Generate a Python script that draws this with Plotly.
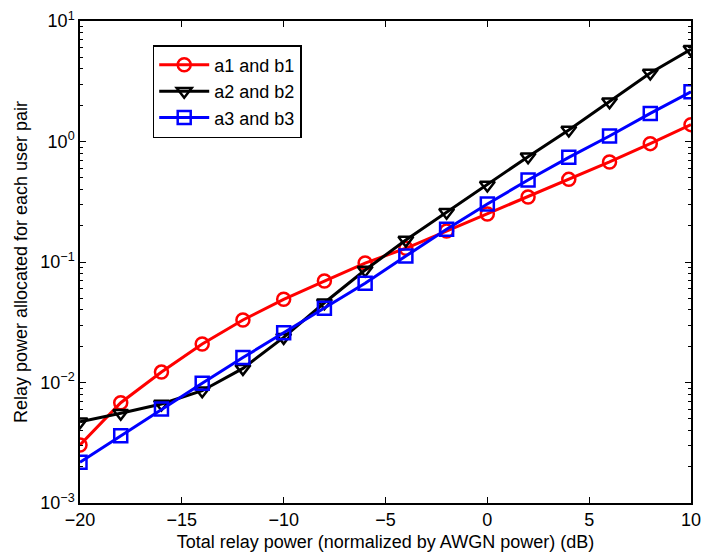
import plotly.graph_objects as go

x_db = [-20, -18, -16, -14, -12, -10, -8, -6, -4, -2, 0, 2, 4, 6, 8, 10]
a1_b1 = [0.00303, 0.0068, 0.0122, 0.0209, 0.033, 0.049, 0.0695, 0.098, 0.13, 0.181, 0.25, 0.346, 0.485, 0.676, 0.96, 1.38]
a2_b2 = [0.00473, 0.00555, 0.00663, 0.00855, 0.0131, 0.0237, 0.0459, 0.0858, 0.152, 0.259, 0.435, 0.748, 1.245, 2.14, 3.70, 5.82]
a3_b3 = [0.00218, 0.00362, 0.00603, 0.00985, 0.0161, 0.0259, 0.0413, 0.0666, 0.112, 0.187, 0.303, 0.479, 0.739, 1.11, 1.71, 2.59]

y_tickvals = [0.001, 0.01, 0.1, 1, 10]
y_ticktext = ["10<sup>\u22123</sup>", "10<sup>\u22122</sup>", "10<sup>\u22121</sup>", "10<sup>0</sup>", "10<sup>1</sup>"]
x_tickvals = [-20, -15, -10, -5, 0, 5, 10]
x_ticktext = ["\u221220", "\u221215", "\u221210", "\u22125", "0", "5", "10"]

series = [
    ("a1 and b1", a1_b1, "#ff0000", "circle-open"),
    ("a2 and b2", a2_b2, "#000000", "triangle-down-open"),
    ("a3 and b3", a3_b3, "#0000ff", "square-open"),
]

FONT = "Liberation Sans, Arial, Helvetica, sans-serif"
FS = 18

fig = go.Figure()
for name, vals, col, sym in series:
    fig.add_trace(go.Scatter(
        x=x_db, y=vals, name=name, mode="lines+markers",
        line=dict(color=col, width=3),
        marker=dict(symbol=sym, size=13, color=col, line=dict(color=col, width=2.5)),
    ))

fig.update_layout(
    width=704, height=559,
    margin=dict(l=80, r=13, t=21, b=56),
    paper_bgcolor="white", plot_bgcolor="white",
    font=dict(family=FONT, size=FS, color="black"),
    showlegend=True,
    legend=dict(
        x=0.119, y=0.95, xanchor="left", yanchor="top",
        bgcolor="white", bordercolor="black", borderwidth=1.5,
        font=dict(family=FONT, size=FS, color="black"),
        itemwidth=50, tracegroupgap=0,
    ),
)

fig.update_xaxes(
    range=[-20, 10], tickvals=x_tickvals, ticktext=x_ticktext,
    automargin=False,
    showgrid=False, zeroline=False,
    showline=True, linecolor="black", linewidth=1.5, mirror="allticks",
    ticks="inside", ticklen=6, tickcolor="black", tickwidth=1,
    tickfont=dict(family=FONT, size=FS, color="black"),
    title=dict(text="Total relay power (normalized by AWGN power) (dB)",
               font=dict(family=FONT, size=FS, color="black"), standoff=6),
)

fig.update_yaxes(
    type="log", range=[-3, 1], tickvals=y_tickvals, ticktext=y_ticktext,
    automargin=False,
    showgrid=False, zeroline=False,
    showline=True, linecolor="black", linewidth=1.5, mirror="allticks",
    ticks="inside", ticklen=6, tickcolor="black", tickwidth=1,
    minor=dict(ticks="inside", ticklen=3, tickcolor="black", tickwidth=1, showgrid=False,
               tickvals=[m * 10 ** e for e in range(-3, 1) for m in range(2, 10)]),
    tickfont=dict(family=FONT, size=FS, color="black"),
    title=dict(text="Relay power allocated for each user pair",
               font=dict(family=FONT, size=FS, color="black"), standoff=8),
)

fig.write_html("out.html")
